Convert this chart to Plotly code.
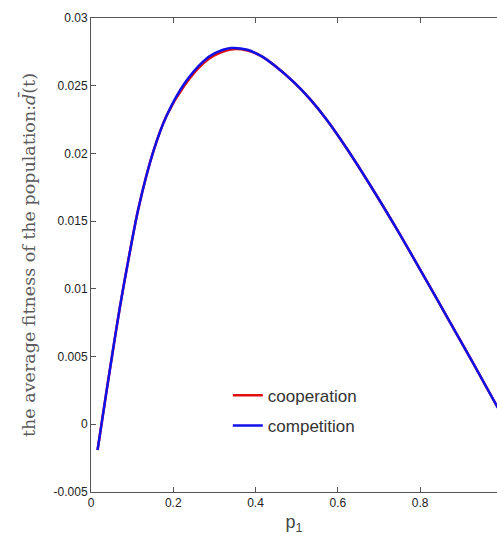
import plotly.graph_objects as go

# Data
p1 = [0.016, 0.036, 0.054, 0.070, 0.087, 0.115, 0.151, 0.184, 0.228, 0.273,
      0.300, 0.340, 0.380, 0.413, 0.450, 0.493, 0.532, 0.573, 0.621, 0.686,
      0.751, 0.820, 0.875, 0.930, 0.989]
competition = [-0.0019, 0.0021, 0.0056, 0.0086, 0.0115, 0.0159, 0.0201, 0.0228,
               0.0252, 0.0268, 0.02738, 0.02778, 0.02765, 0.0272, 0.0264,
               0.02526, 0.02403, 0.02249, 0.02040, 0.01730, 0.01402, 0.01037,
               0.00741, 0.00446, 0.00122]
cooperation = [-0.0019, 0.0021, 0.0056, 0.0086, 0.0115, 0.0159, 0.0201, 0.0228,
               0.02505, 0.02665, 0.02724, 0.02768, 0.0276, 0.0272, 0.0264,
               0.02526, 0.02403, 0.02249, 0.02040, 0.01730, 0.01402, 0.01037,
               0.00741, 0.00446, 0.00122]

x_ticks = [0, 0.2, 0.4, 0.6, 0.8]
x_ticklabels = ["0", "0.2", "0.4", "0.6", "0.8"]
y_ticks = [-0.005, 0, 0.005, 0.01, 0.015, 0.02, 0.025, 0.03]
y_ticklabels = ["-0.005", "0", "0.005", "0.01", "0.015", "0.02", "0.025", "0.03"]

fig = go.Figure()
fig.add_trace(go.Scatter(x=p1, y=cooperation, mode="lines", name="cooperation",
                         line=dict(color="#e01010", width=2.5, shape="spline", smoothing=0.8),
                         legendgroup="a"))
fig.add_trace(go.Scatter(x=p1, y=competition, mode="lines", name="competition",
                         line=dict(color="#1010e8", width=2.5, shape="spline", smoothing=0.8),
                         legendgroup="b"))

axis_font = dict(family="Liberation Sans, Arial", size=12, color="#222")

fig.update_layout(
    width=497, height=535,
    margin=dict(l=91, r=0, t=18, b=43),
    paper_bgcolor="white", plot_bgcolor="white",
    showlegend=True,
    legend=dict(x=0.337, y=0.241, xanchor="left", yanchor="top",
                bgcolor="rgba(0,0,0,0)",
                font=dict(family="Liberation Sans, Arial", size=17, color="#333"),
                traceorder="grouped", tracegroupgap=5),
    xaxis=dict(range=[0, 0.987], tickvals=x_ticks, ticktext=x_ticklabels,
               showgrid=False, zeroline=False, showline=True, linecolor="#555",
               linewidth=1, mirror="ticks", ticks="inside", ticklen=5,
               tickcolor="#555", tickfont=axis_font,
               title=dict(text="p<sub>1</sub>", standoff=6,
                          font=dict(family="Liberation Sans, Arial", size=18, color="#444"))),
    yaxis=dict(range=[-0.005, 0.03], tickvals=y_ticks, ticktext=y_ticklabels,
               showgrid=False, zeroline=False, showline=True, linecolor="#555",
               linewidth=1, mirror=False, ticks="inside", ticklen=5,
               tickcolor="#555", tickfont=axis_font,
               title=dict(text="the average fitness of the population:<i>d̄</i>(t)", standoff=13,
                          font=dict(family="DejaVu Serif, Liberation Serif", size=17.5, color="#5a5a5a"))),
)

fig.write_html("out.html", config={"displayModeBar": False},
               post_script="document.body.style.margin='0';")
